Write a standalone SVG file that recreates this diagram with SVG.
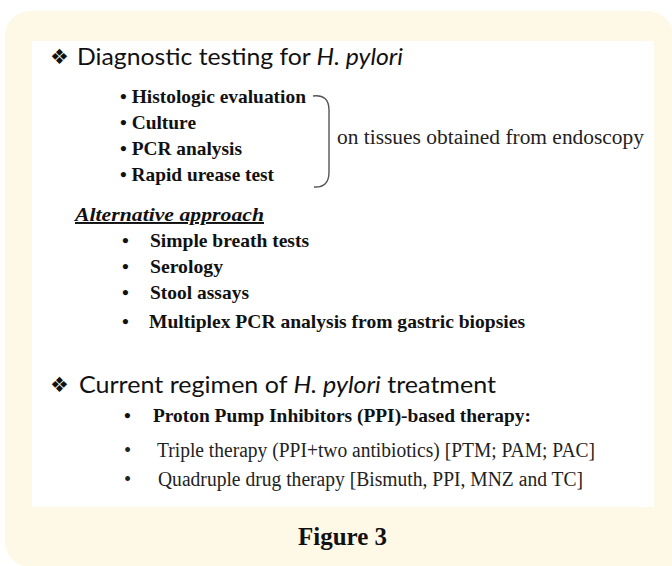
<svg xmlns="http://www.w3.org/2000/svg" width="672" height="566" viewBox="0 0 672 566">
<style>
.h{font-family:Lato,"Open Sans","DejaVu Sans",sans-serif;font-size:24px;fill:#111}
.dia{font-family:"DejaVu Sans",sans-serif;font-size:21px;fill:#111}
.b{font-family:"Liberation Serif","Times New Roman",serif;font-weight:bold;font-size:19.5px;fill:#111}
.r{font-family:"Liberation Serif","Times New Roman",serif;font-size:20.5px;fill:#222}
.fig{font-family:"Liberation Serif","Times New Roman",serif;font-weight:bold;font-size:26px;fill:#111}
</style>
<rect width="672" height="566" fill="#ffffff"/>
<g id="frame">
<path d="M5,36 A25,25 0 0 1 30,11 L648,11 A25,25 0 0 1 673,36 L673,567 L30,567 A25,25 0 0 1 5,542 Z" fill="#fef9e6"/>
<rect x="32" y="41" width="622" height="466" fill="#ffffff"/>
</g>
<g id="section-diagnostic">
<text class="dia" x="50" y="64">❖</text>
<text class="h" x="77" y="65" textLength="326" lengthAdjust="spacingAndGlyphs">Diagnostic testing for <tspan font-style="italic">H. pylori</tspan></text>
<text class="b" x="120" y="103" textLength="186" lengthAdjust="spacingAndGlyphs">• Histologic evaluation</text>
<text class="b" x="120" y="129" textLength="76" lengthAdjust="spacingAndGlyphs">• Culture</text>
<text class="b" x="120" y="155" textLength="122" lengthAdjust="spacingAndGlyphs">• PCR analysis</text>
<text class="b" x="120" y="181" textLength="154" lengthAdjust="spacingAndGlyphs">• Rapid urease test</text>
</g>
<g id="connectors">
<path d="M313,96 Q329,94 329,110 L329,172 Q329,188 314,187" fill="none" stroke="#555" stroke-width="1.4"/>
</g>
<g id="endoscopy-note">
<text class="r" x="337" y="144" textLength="307" lengthAdjust="spacingAndGlyphs">on tissues obtained from endoscopy</text>
</g>
<g id="section-alternative">
<text class="b" x="75" y="221" font-style="italic" font-size="20.5" text-decoration="underline" textLength="189" lengthAdjust="spacingAndGlyphs">Alternative approach</text>
<text class="b" x="122" y="247">•</text>
<text class="b" x="150" y="247" textLength="159" lengthAdjust="spacingAndGlyphs">Simple breath tests</text>
<text class="b" x="122" y="273">•</text>
<text class="b" x="150" y="273" textLength="73" lengthAdjust="spacingAndGlyphs">Serology</text>
<text class="b" x="122" y="299">•</text>
<text class="b" x="150" y="299" textLength="99" lengthAdjust="spacingAndGlyphs">Stool assays</text>
<text class="b" x="122" y="328">•</text>
<text class="b" x="149" y="328" textLength="376" lengthAdjust="spacingAndGlyphs">Multiplex PCR analysis from gastric biopsies</text>
</g>
<g id="section-treatment">
<text class="dia" x="50" y="392">❖</text>
<text class="h" x="79" y="393" textLength="417" lengthAdjust="spacingAndGlyphs">Current regimen of <tspan font-style="italic">H. pylori</tspan> treatment</text>
<text class="b" x="124" y="422">•</text>
<text class="b" x="153" y="422" textLength="378" lengthAdjust="spacingAndGlyphs">Proton Pump Inhibitors (PPI)-based therapy:</text>
<text class="r" x="124" y="457">•</text>
<text class="r" x="157" y="457" textLength="438" lengthAdjust="spacingAndGlyphs">Triple therapy (PPI+two antibiotics) [PTM; PAM; PAC]</text>
<text class="r" x="124" y="486">•</text>
<text class="r" x="158" y="486" textLength="425" lengthAdjust="spacingAndGlyphs">Quadruple drug therapy [Bismuth, PPI, MNZ and TC]</text>
</g>
<g id="caption">
<text class="fig" x="298" y="545" textLength="89" lengthAdjust="spacingAndGlyphs">Figure 3</text>
</g>
</svg>
